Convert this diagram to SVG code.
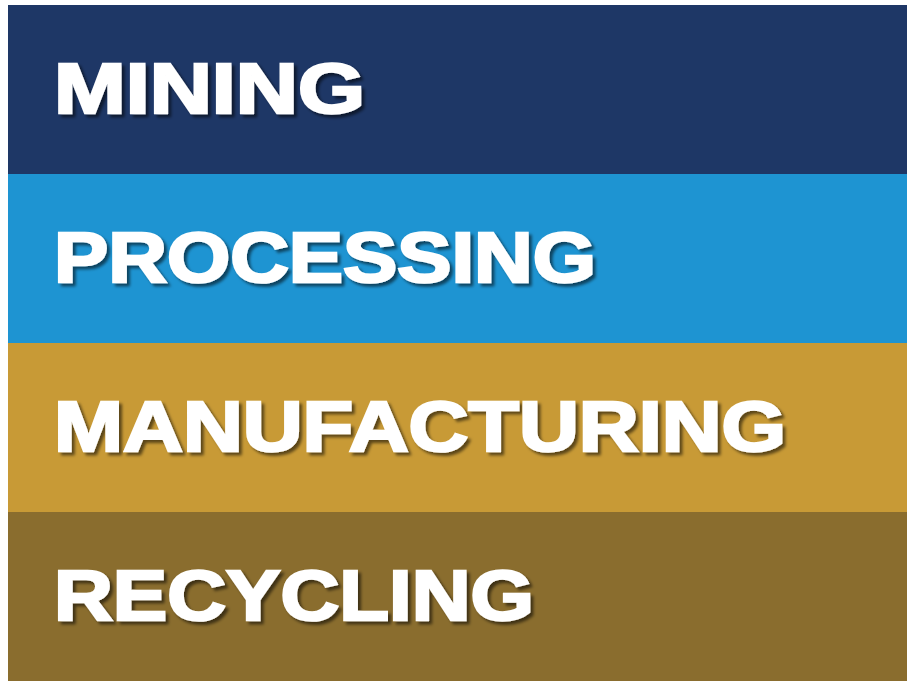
<svg xmlns="http://www.w3.org/2000/svg" width="907" height="681" viewBox="0 0 907 681">
  <defs>
    <filter id="shadow" x="-10%" y="-30%" width="120%" height="160%">
      <feDropShadow dx="3" dy="3" stdDeviation="1.8" flood-color="#000" flood-opacity="0.55"/>
    </filter>
  </defs>
  <style>
    .label { font-family: "Liberation Sans", Arial, sans-serif; font-weight: bold; font-size: 71px; fill: #ffffff; stroke: #ffffff; stroke-width: 2.6; stroke-linejoin: miter; filter: url(#shadow); }
  </style>
  <rect x="0" y="0" width="907" height="681" fill="#ffffff"/>
  <g id="mining">
    <rect x="8" y="5" width="899" height="169" fill="#1e3766"/>
    <text class="label" x="54" y="112.8" textLength="311" lengthAdjust="spacingAndGlyphs">MINING</text>
  </g>
  <g id="processing">
    <rect x="8" y="174" width="899" height="169" fill="#1e94d2"/>
    <text class="label" x="54" y="281.8" textLength="542" lengthAdjust="spacingAndGlyphs">PROCESSING</text>
  </g>
  <g id="manufacturing">
    <rect x="8" y="343" width="899" height="169" fill="#c89a36"/>
    <text class="label" x="54" y="450.8" textLength="732" lengthAdjust="spacingAndGlyphs">MANUFACTURING</text>
  </g>
  <g id="recycling">
    <rect x="8" y="512" width="899" height="169" fill="#8a6d2e"/>
    <text class="label" x="54" y="619.8" textLength="480" lengthAdjust="spacingAndGlyphs">RECYCLING</text>
  </g>
  <g id="connectors"></g>
</svg>
